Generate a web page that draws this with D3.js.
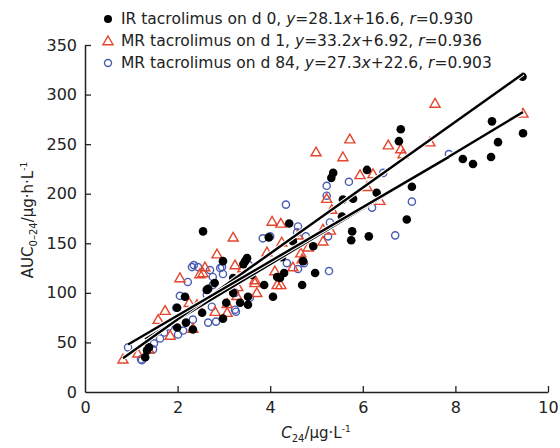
<!DOCTYPE html>
<html>
<head>
<meta charset="utf-8">
<script src="https://cdn.jsdelivr.net/npm/d3@7"></script>
<style>
  body { margin: 0; background: #fff; }
  text { font-family: "DejaVu Sans", "Liberation Sans", sans-serif; fill: #222; }
</style>
</head>
<body>
<div id="graph"></div>
<script>
var width = 560;
var height = 448;

// IR tacrolimus on d 0 (filled black dots) : [C24, AUC]
var irD0 = [
  [9.45,318],[8.79,273],[9.46,261],[8.92,252],[8.77,237],[8.16,235],[8.38,230],
  [6.82,265],[6.78,253],[7.06,207],[6.30,201],[6.95,174],[6.13,157],
  [5.36,221],[5.32,216],[6.09,224],[5.57,194],[5.79,195],[5.55,177],[5.77,162],[5.75,153],
  [4.41,170],[4.49,152],[4.93,147],[4.25,136],[4.71,132],[4.97,120],[4.69,108],[4.21,115],[4.30,120],
  [2.55,162],[3.97,156],[3.50,135],[3.46,132],[3.42,129],[2.98,132],[3.87,108],[4.06,96],[2.66,104],
  [3.20,100],[3.52,96],[3.52,88],[3.35,90],[2.98,74],[2.53,80],[2.16,96],[1.99,85],[1.34,42],[1.38,45],
  [1.30,35],[2.18,70],[2.33,63],[2.63,103],[1.99,65],[3.20,115],[3.60,118],[2.80,110],[3.05,90],[4.15,116]
];
// MR tacrolimus on d 1 (open red triangles)
var mrD1 = [
  [0.82,33],[1.14,39],[1.38,43],[1.58,73],[1.73,82],[1.84,57],[2.05,115],[2.25,90],[2.42,88],[2.33,64],
  [2.48,119],[2.55,120],[2.59,126],[2.81,81],[2.85,139],[3.07,89],[3.07,80],[3.20,156],[3.24,128],[3.28,97],
  [3.30,106],[3.41,125],[3.67,110],[3.67,113],[3.71,100],[3.93,141],[4.04,172],[4.10,122],[4.15,108],[4.23,170],
  [4.23,108],[4.25,151],[4.49,126],[4.60,158],[4.66,140],[4.69,134],[4.82,146],[4.99,242],[5.14,164],[5.14,152],
  [5.22,195],[5.30,163],[5.33,184],[5.57,237],[5.72,255],[5.94,219],[6.09,207],[6.22,220],[6.37,193],[6.55,249],
  [6.82,245],[6.87,240],[7.45,252],[7.56,291],[9.46,281]
];
// MR tacrolimus on d 84 (open blue circles)
var mrD84 = [
  [0.93,45],[1.21,33],[1.23,32],[1.47,43],[1.49,49],[1.62,54],[1.71,60],[1.81,66],[1.97,85],[2.01,58],
  [2.12,62],[2.05,97],[2.22,111],[2.35,128],[2.31,126],[2.44,126],[2.33,73],[2.63,98],[2.66,70],[2.70,123],
  [2.76,116],[2.76,108],[2.74,86],[2.83,71],[2.92,125],[2.96,126],[2.98,119],[3.24,83],[3.24,100],[3.26,81],
  [3.54,128],[3.56,95],[3.84,155],[4.00,157],[4.34,189],[4.36,130],[4.58,161],[4.60,167],[4.60,124],[4.73,130],
  [4.77,157],[5.22,208],[5.22,198],[5.25,157],[5.27,122],[5.29,171],[5.70,212],[6.20,186],[6.44,221],[6.70,158],
  [7.06,192],[7.86,240]
];

// regression lines: slope, intercept, x range
var fits = [
  {slope: 28.1, icpt: 16.6, from: 1.30, to: 9.46},
  {slope: 33.2, icpt: 6.92, from: 0.82, to: 9.46},
  {slope: 27.3, icpt: 22.6, from: 0.93, to: 7.86}
];

var legendText = [
  ["IR tacrolimus on d 0, ", "y", "=28.1", "x", "+16.6, ", "r", "=0.930"],
  ["MR tacrolimus on d 1, ", "y", "=33.2", "x", "+6.92, ", "r", "=0.936"],
  ["MR tacrolimus on d 84, ", "y", "=27.3", "x", "+22.6, ", "r", "=0.903"]
];

var xTicks = [0, 2, 4, 6, 8, 10];
var yTicks = [0, 50, 100, 150, 200, 250, 300, 350];

var red = "#e4452c";
var blue = "#4a5db3";

var x = d3.scaleLinear().domain([0, 10]).range([85, 548]);
var y = d3.scaleLinear().domain([0, 350]).range([392, 45]);

var svg = d3.select("#graph").append("svg")
  .attr("width", width)
  .attr("height", height);

// axes
var xAxis = svg.append("g")
  .attr("transform", "translate(0," + y(0) + ")")
  .call(d3.axisBottom(x).tickValues(xTicks).tickSizeInner(-6).tickSizeOuter(0).tickPadding(10));
var yAxis = svg.append("g")
  .attr("transform", "translate(" + x(0) + ",0)")
  .call(d3.axisLeft(y).tickValues(yTicks).tickSizeInner(-6).tickSizeOuter(0).tickPadding(8));

[xAxis, yAxis].forEach(function(a) {
  a.select(".domain").attr("stroke", "#222").attr("stroke-width", 1.5);
  a.selectAll(".tick line").attr("stroke", "#222").attr("stroke-width", 1.3);
  a.selectAll(".tick text").style("font-size", "16px").attr("fill", "#222");
});
// no tick marks at the origin
yAxis.selectAll(".tick").filter(function(d) { return d === 0; }).select("line").remove();
xAxis.selectAll(".tick").filter(function(d) { return d === 0; }).select("line").remove();

// points: blue circles, red triangles, black dots
svg.append("g").selectAll("circle")
  .data(mrD84)
  .enter().append("circle")
  .attr("cx", function(d) { return x(d[0]); })
  .attr("cy", function(d) { return y(d[1]); })
  .attr("r", 3.6)
  .attr("fill", "none")
  .attr("stroke", blue)
  .attr("stroke-width", 1.4);

var tri = d3.symbol().type(d3.symbolTriangle).size(44);
svg.append("g").selectAll("path")
  .data(mrD1)
  .enter().append("path")
  .attr("d", tri)
  .attr("transform", function(d) { return "translate(" + x(d[0]) + "," + (y(d[1]) + 0.8) + ")"; })
  .attr("fill", "none")
  .attr("stroke", red)
  .attr("stroke-width", 1.4);

svg.append("g").selectAll("circle")
  .data(irD0)
  .enter().append("circle")
  .attr("cx", function(d) { return x(d[0]); })
  .attr("cy", function(d) { return y(d[1]); })
  .attr("r", 4.3)
  .attr("fill", "#000");

// regression lines with a thin white halo
var lineG = svg.append("g");
fits.forEach(function(f) {
  var pts = [[f.from, f.slope * f.from + f.icpt], [f.to, f.slope * f.to + f.icpt]];
  var ln = d3.line().x(function(d) { return x(d[0]); }).y(function(d) { return y(d[1]); });
  lineG.append("path").attr("d", ln(pts)).attr("stroke", "#fff").attr("stroke-width", 4.5).attr("fill", "none");
  lineG.append("path").attr("d", ln(pts)).attr("stroke", "#000").attr("stroke-width", 2.4).attr("fill", "none");
});

// legend
var legend = svg.append("g").attr("transform", "translate(108,19)");
legendText.forEach(function(parts, i) {
  var row = legend.append("g").attr("transform", "translate(0," + (i * 22) + ")");
  if (i === 0) {
    row.append("circle").attr("r", 4).attr("fill", "#000");
  } else if (i === 1) {
    row.append("path").attr("d", tri).attr("transform", "translate(0,0.8)")
      .attr("fill", "none").attr("stroke", red).attr("stroke-width", 1.4);
  } else {
    row.append("circle").attr("r", 3.5).attr("fill", "none").attr("stroke", blue).attr("stroke-width", 1.4);
  }
  var t = row.append("text").attr("x", 13).attr("dy", "0.35em").style("font-size", "15.5px");
  parts.forEach(function(p, j) {
    t.append("tspan").text(p).style("font-style", (j === 1 || j === 3 || j === 5) ? "italic" : "normal");
  });
});

// y axis title
var yt = svg.append("text")
  .attr("transform", "translate(33,220) rotate(-90)")
  .attr("text-anchor", "middle")
  .style("font-size", "15px");
yt.append("tspan").text("AUC");
yt.append("tspan").text("0\u201324").style("font-size", "10px").attr("dy", 4);
yt.append("tspan").text("/\u03bcg\u00b7h\u00b7L").style("font-size", "15px").attr("dy", -4);
yt.append("tspan").text("-1").style("font-size", "9px").attr("dy", -6);

// x axis title
var xt = svg.append("text")
  .attr("x", 316).attr("y", 438)
  .attr("text-anchor", "middle")
  .style("font-size", "15px");
xt.append("tspan").text("C").style("font-style", "italic");
xt.append("tspan").text("24").style("font-size", "10px").attr("dy", 4);
xt.append("tspan").text("/\u03bcg\u00b7L").style("font-size", "15px").attr("dy", -4);
xt.append("tspan").text("-1").style("font-size", "9px").attr("dy", -6);
</script>
</body>
</html>
